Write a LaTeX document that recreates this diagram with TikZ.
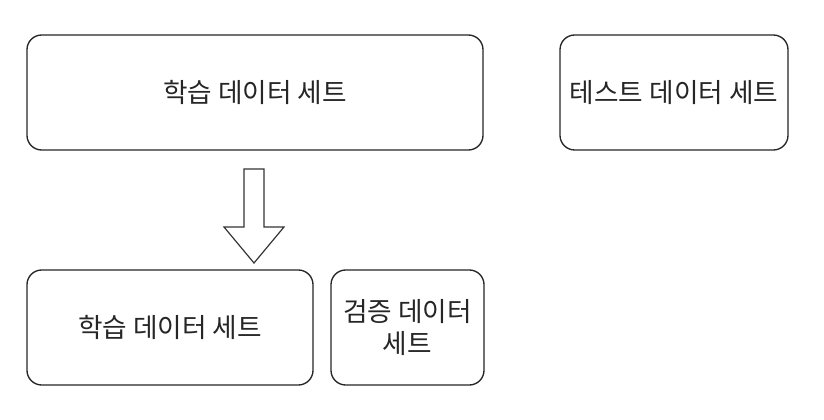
\documentclass[tikz,border=0pt]{standalone}
\usepackage{fontspec}
\setmainfont{Noto Sans CJK KR}
\begin{document}
\begin{tikzpicture}[x=0.75pt,y=-0.75pt,
    setbox/.style={draw=black!85, line width=1pt, rounded corners=11pt, fill=white,
      minimum height=86.25pt, inner sep=0pt, align=center,
      font=\fontsize{20}{24}\selectfont, text=black!85}]
                \useasboundingbox (0,0) rectangle (824,420);
                % top row
                \node[setbox, minimum width=342pt] (train) at (255,92.5) {학습 데이터 세트};
                \node[setbox, minimum width=171pt] (test) at (674,92.5) {테스트 데이터 세트};
                % bottom row
                \node[setbox, minimum width=214.5pt] (subtrain) at (170,327.5) {학습 데이터 세트};
                \node[setbox, minimum width=114.75pt] (valid) at (407.5,327.5) {검증 데이터\\세트};
                % split arrow
                \coordinate (tip) at (254,263);
                \draw[draw=black!80, line width=0.9pt, fill=white, line join=miter]
                    ([xshift=-7.5pt,yshift=70.5pt]tip)--([xshift=7.5pt,yshift=70.5pt]tip)
                    --([xshift=7.5pt,yshift=27pt]tip)--([xshift=22.5pt,yshift=27pt]tip)
                    --(tip)--([xshift=-22.5pt,yshift=27pt]tip)
                    --([xshift=-7.5pt,yshift=27pt]tip)--cycle;
\end{tikzpicture}
\end{document}
